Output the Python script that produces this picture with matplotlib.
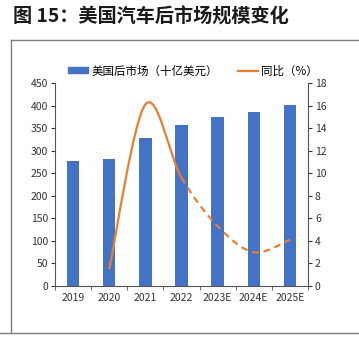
import numpy as np
import matplotlib
matplotlib.use("Agg")
import matplotlib.pyplot as plt
from matplotlib.path import Path
from matplotlib.patches import PathPatch, Patch
from matplotlib.lines import Line2D

plt.rcParams['font.family'] = ['Noto Sans CJK SC', 'DejaVu Sans']

years = ['2019', '2020', '2021', '2022', '2023E', '2024E', '2025E']
market = [278, 281, 327, 357, 374, 386, 402]          # 十亿美元
yoy_years = ['2020', '2021', '2022', '2023E', '2024E', '2025E']
yoy = [1.5, 16.1, 9.6, 5.3, 3.0, 4.1]                  # %
n_actual = 3   # 2020-2022 solid, then forecast dashed

BLUE = '#4472C4'
ORANGE = '#ED7D31'

W, H = 359, 341
fig = plt.figure(figsize=(W / 100, H / 100), dpi=100)

# report frame
fig.add_artist(Line2D([11 / W, 11 / W], [1 - 40 / H, 1 - 333 / H], color='#7f7f7f', lw=1.0))
fig.add_artist(Line2D([11 / W, 1], [1 - 40 / H, 1 - 40 / H], color='#7f7f7f', lw=1.0))
fig.add_artist(Line2D([0, 1], [1 - 333 / H, 1 - 333 / H], color='#7f7f7f', lw=1.0))
fig.text(13 / W, 1 - 17 / H, '图 15：美国汽车后市场规模变化', fontsize=13.8,
         fontweight='bold', va='center', ha='left', color='#1a1a1a')

ax = fig.add_axes([55 / W, 1 - 286 / H, 253 / W, 203 / H])
ax2 = ax.twinx()

x = np.arange(len(years))
ax.bar(x, market, width=0.34, color=BLUE, zorder=2)
ax.set_xlim(-0.5, len(years) - 0.5)
ax.set_ylim(0, 450)
ax.set_yticks(np.arange(0, 451, 50))
ax.set_xticks(x)
ax.set_xticklabels(years)
ax.set_xticks(np.arange(-0.5, len(years), 1), minor=True)
ax.tick_params(axis='x', which='major', length=0, pad=5, labelsize=7.5, colors='#333333')
ax.tick_params(axis='x', which='minor', length=3, direction='out', color='#555555')
ax.tick_params(axis='y', length=3, direction='out', pad=2, labelsize=7.5, colors='#333333')
ax2.set_ylim(0, 18)
ax2.set_yticks(np.arange(0, 19, 2))
ax2.tick_params(axis='y', length=3, direction='out', pad=2, labelsize=7.5, colors='#333333')
for a in (ax, ax2):
    a.spines['top'].set_visible(False)
    for s in ('left', 'right', 'bottom'):
        a.spines[s].set_color('#555555')
        a.spines[s].set_linewidth(0.8)
ax.spines['right'].set_visible(False)
ax2.spines['left'].set_visible(False)
ax2.spines['bottom'].set_visible(False)

# smoothed YoY line (Catmull-Rom style Bezier, like Excel's smoothed line)
px = np.array([years.index(y) for y in yoy_years], dtype=float)
py = np.array(yoy, dtype=float)
pts = np.column_stack([px, py])
ext = np.vstack([pts[0], pts, pts[-1]])
segs = []
for i in range(len(pts) - 1):
    p0, p1, p2, p3 = ext[i], ext[i + 1], ext[i + 2], ext[i + 3]
    c1 = p1 + (p2 - p0) / 6
    c2 = p2 - (p3 - p1) / 6
    segs.append((p1, c1, c2, p2))


def bez_path(seg_list):
    verts = [seg_list[0][0]]
    codes = [Path.MOVETO]
    for p1, c1, c2, p2 in seg_list:
        verts += [c1, c2, p2]
        codes += [Path.CURVE4] * 3
    return Path(verts, codes)


ax2.add_patch(PathPatch(bez_path(segs[:n_actual - 1]), fill=False,
                        edgecolor=ORANGE, lw=1.6, zorder=3))
ax2.add_patch(PathPatch(bez_path(segs[n_actual - 1:]), fill=False,
                        edgecolor=ORANGE, lw=1.6, linestyle=(0, (3, 2.2)), zorder=3))

handles = [Patch(color=BLUE), Line2D([], [], color=ORANGE, lw=1.6)]
labels = ['美国后市场（十亿美元）', '同比（%）']
fig.legend(handles, labels, loc='center left', bbox_to_anchor=(68 / W, 1 - 71 / H),
           ncol=2, frameon=False, fontsize=8.3, handlelength=1.75, handleheight=0.45,
           handletextpad=0.25, columnspacing=1.8, borderaxespad=0, borderpad=0)

fig.savefig('out.png', dpi=100)
